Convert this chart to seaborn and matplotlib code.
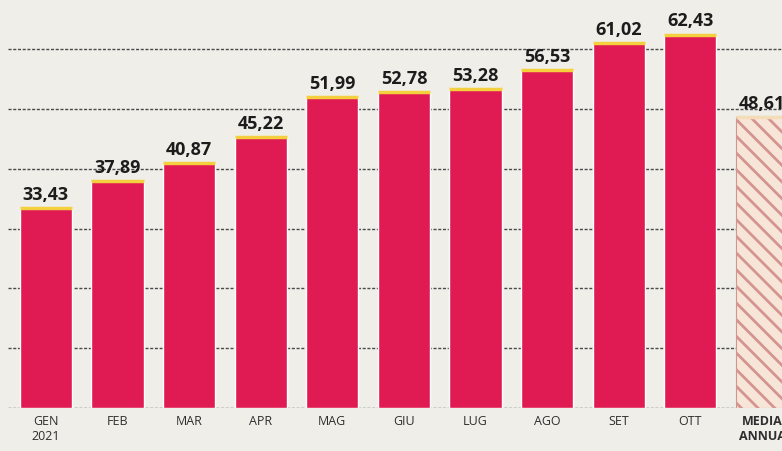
import numpy as np
import pandas as pd
import matplotlib
matplotlib.use("Agg")
import matplotlib.pyplot as plt
import seaborn as sns

# Dati
mesi = ["GEN\n2021", "FEB", "MAR", "APR", "MAG", "GIU", "LUG", "AGO", "SET", "OTT", "MEDIA\nANNUA"]
valori = [33.43, 37.89, 40.87, 45.22, 51.99, 52.78, 53.28, 56.53, 61.02, 62.43, 48.61]
griglia = [0, 10, 20, 30, 40, 50, 60]

sfondo = "#efeee8"
rosso = "#e01a52"
giallo = "#f4d03f"

sns.set_theme(style="white")
plt.rcParams["font.family"] = ["Open Sans", "DejaVu Sans"]
plt.rcParams["hatch.linewidth"] = 2.0

df = pd.DataFrame({"mese": mesi, "valore": valori})
colori = [rosso] * (len(mesi) - 1) + ["#f7e6d8"]

fig = plt.figure(figsize=(7.82, 4.51), dpi=100, facecolor=sfondo)
ax = fig.add_axes([0, 43 / 451, 1, 1 - 43 / 451])
ax.set_facecolor(sfondo)

sns.barplot(data=df, x="mese", y="valore", hue="mese", palette=colori, legend=False,
            width=0.73, saturation=1, ax=ax, zorder=2)

# barra media tratteggiata
media = ax.patches[-1]
media.set_hatch("\\\\")
media.set_edgecolor("#d49490")
media.set_linewidth(0.8)

# bordo giallo in cima alle barre
for i, p in enumerate(ax.patches):
    col = giallo if i < len(ax.patches) - 1 else "#f3dcb8"
    ax.plot([p.get_x(), p.get_x() + p.get_width()], [p.get_height()] * 2,
            color=col, lw=2.5, solid_capstyle="butt", zorder=3)

# etichette valori
for i, v in enumerate(valori):
    ax.annotate(f"{v:.2f}".replace(".", ","), (i, v), xytext=(0, 3),
                textcoords="offset points", ha="center", va="bottom",
                fontsize=13, fontweight="bold", color="#1c1c1c")

# griglia tratteggiata
for y in griglia:
    ax.axhline(y, xmin=0.01, xmax=1, color="#4a4a4a", lw=1.0,
               linestyle=(0, (2.2, 1.2)), zorder=1)

ax.set_xlim(-0.64, 10.28)
ax.set_ylim(0, 68.2)
ax.set_yticks([])
ax.set_xlabel("")
ax.set_ylabel("")
sns.despine(ax=ax, left=True, bottom=True)
ax.tick_params(axis="x", length=0, pad=5, labelsize=9, labelcolor="#2e2e2e")
ax.get_xticklabels()[-1].set_fontweight("bold")

fig.savefig("out.png", dpi=100, facecolor=sfondo)
